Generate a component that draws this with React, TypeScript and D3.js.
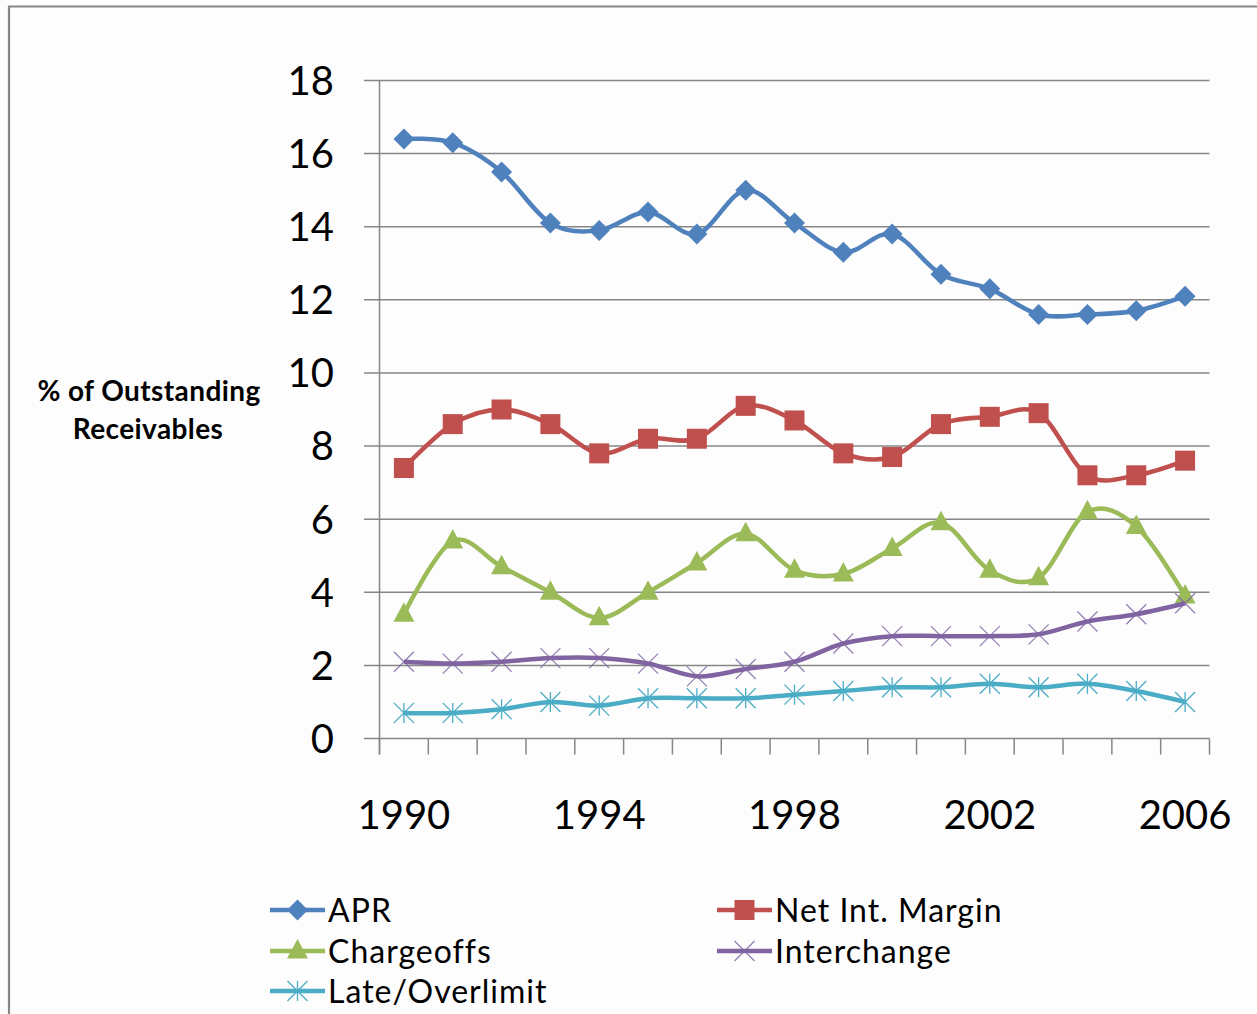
import React from "react";
import * as d3 from "d3";

const years = [1990,1991,1992,1993,1994,1995,1996,1997,1998,1999,2000,2001,2002,2003,2004,2005,2006];
const yearLabels = ["1990","1994","1998","2002","2006"];
const yTicks = [0,2,4,6,8,10,12,14,16,18];

const apr = [16.4,16.3,15.5,14.1,13.9,14.4,13.8,15.0,14.1,13.3,13.8,12.7,12.3,11.6,11.6,11.7,12.1];
const netIntMargin = [7.4,8.6,9.0,8.6,7.8,8.2,8.2,9.1,8.7,7.8,7.7,8.6,8.8,8.9,7.2,7.2,7.6];
const chargeoffs = [3.4,5.4,4.7,4.0,3.3,4.0,4.8,5.6,4.6,4.5,5.2,5.9,4.6,4.4,6.2,5.8,3.9];
const interchange = [2.1,2.05,2.1,2.2,2.2,2.05,1.7,1.9,2.1,2.6,2.8,2.8,2.8,2.85,3.2,3.4,3.7];
const lateOverlimit = [0.7,0.7,0.8,1.0,0.9,1.1,1.1,1.1,1.2,1.3,1.4,1.4,1.5,1.4,1.5,1.3,1.0];

const seriesNames = ["APR","Net Int. Margin","Chargeoffs","Interchange","Late/Overlimit"];
const seriesColors = ["#4F81BD","#C0504D","#9BBB59","#8064A2","#4BACC6"];
const seriesMarkers = ["diamond","square","triangle","x","star"];

const FONT = "Lato, 'Open Sans', sans-serif";

function Marker({ type, x, y, color }: { type: string; x: number; y: number; color: string }) {
  if (type === "diamond") {
    const s = 10.5;
    return <path d={`M${x},${y - s}L${x + s},${y}L${x},${y + s}L${x - s},${y}Z`} fill={color} />;
  }
  if (type === "square") {
    const s = 10;
    return <rect x={x - s} y={y - s} width={2 * s} height={2 * s} fill={color} />;
  }
  if (type === "triangle") {
    return <path d={`M${x},${y - 12}L${x + 10.5},${y + 7.5}L${x - 10.5},${y + 7.5}Z`} fill={color} />;
  }
  if (type === "x") {
    const s = 10;
    return (
      <path d={`M${x - s},${y - s}L${x + s},${y + s}M${x - s},${y + s}L${x + s},${y - s}`}
        stroke={color} strokeWidth={1.2} fill="none" opacity={0.85} />
    );
  }
  const s = 10;
  return (
    <path d={`M${x - s},${y - s}L${x + s},${y + s}M${x - s},${y + s}L${x + s},${y - s}M${x},${y - s}L${x},${y + s}`}
      stroke={color} strokeWidth={1.3} fill="none" />
  );
}

export default function App() {
  const W = 1257, H = 1014;
  const x = d3.scalePoint<number>().domain(years).range([379.5, 1209.5]).padding(0.5);
  const band = d3.scaleBand<number>().domain(years).range([379.5, 1209.5]);
  const y = d3.scaleLinear().domain([0, 18]).range([738.5, 80.5]);
  const line = d3.line<number>()
    .x((_, i) => x(years[i]) as number)
    .y((d) => y(d))
    .curve(d3.curveCatmullRom.alpha(0));

  const allSeries = [apr, netIntMargin, chargeoffs, interchange, lateOverlimit];
  const boundaries = years.map((yr) => band(yr) as number).concat([1209.5]);

  const legendPos = [
    { lx: 270, ly: 910 },
    { lx: 717, ly: 910 },
    { lx: 270, ly: 951 },
    { lx: 717, ly: 951 },
    { lx: 270, ly: 991 },
  ];

  return (
    <svg width={W} height={H} style={{ position: "absolute", left: 0, top: 0, background: "#fff" }}>
      <rect x={0} y={0} width={W} height={H} fill="#fdfdfd" />
      <path d={`M9,${H + 5}L9,6.5L${W + 5},6.5`} stroke="#868686" strokeWidth={2.2} fill="none" />

      {yTicks.map((t) => (
        <line key={t} x1={364} x2={1209.5} y1={y(t)} y2={y(t)} stroke="#868686" strokeWidth={1.5} />
      ))}
      <line x1={379.5} x2={379.5} y1={y(18)} y2={y(0) + 16} stroke="#868686" strokeWidth={1.5} />
      {boundaries.map((b, i) => (
        <line key={i} x1={b} x2={b} y1={y(0)} y2={y(0) + 16} stroke="#868686" strokeWidth={1.5} />
      ))}
      {yTicks.map((t) => (
        <text key={t} x={334} y={y(t)} dy="0.36em" textAnchor="end" fontFamily={FONT} fontSize={40} fill="#000">
          {t}
        </text>
      ))}
      {yearLabels.map((l) => (
        <text key={l} x={x(+l) as number} y={829} textAnchor="middle" fontFamily={FONT} fontSize={40} fill="#000">
          {l}
        </text>
      ))}
      <text x={149} y={401} textAnchor="middle" fontFamily={FONT} fontWeight="bold" fontSize={28} letterSpacing={0.4} fill="#000">
        % of Outstanding
      </text>
      <text x={148} y={439} textAnchor="middle" fontFamily={FONT} fontWeight="bold" fontSize={28} letterSpacing={0.4} fill="#000">
        Receivables
      </text>

      {allSeries.map((vals, si) => (
        <g key={si}>
          <path d={line(vals) as string} fill="none" stroke={seriesColors[si]} strokeWidth={4.5} strokeLinejoin="round" />
          {vals.map((v, i) => (
            <Marker key={i} type={seriesMarkers[si]} x={x(years[i]) as number} y={y(v)} color={seriesColors[si]} />
          ))}
        </g>
      ))}

      {seriesNames.map((n, i) => {
        const p = legendPos[i];
        return (
          <g key={n}>
            <line x1={p.lx} x2={p.lx + 55} y1={p.ly} y2={p.ly} stroke={seriesColors[i]} strokeWidth={4.5} />
            <Marker type={seriesMarkers[i]} x={p.lx + 27.5} y={p.ly} color={seriesColors[i]} />
            <text x={p.lx + 58} y={p.ly} dy="0.36em" fontFamily={FONT} fontSize={32} letterSpacing={1} fill="#000">
              {n}
            </text>
          </g>
        );
      })}
    </svg>
  );
}
